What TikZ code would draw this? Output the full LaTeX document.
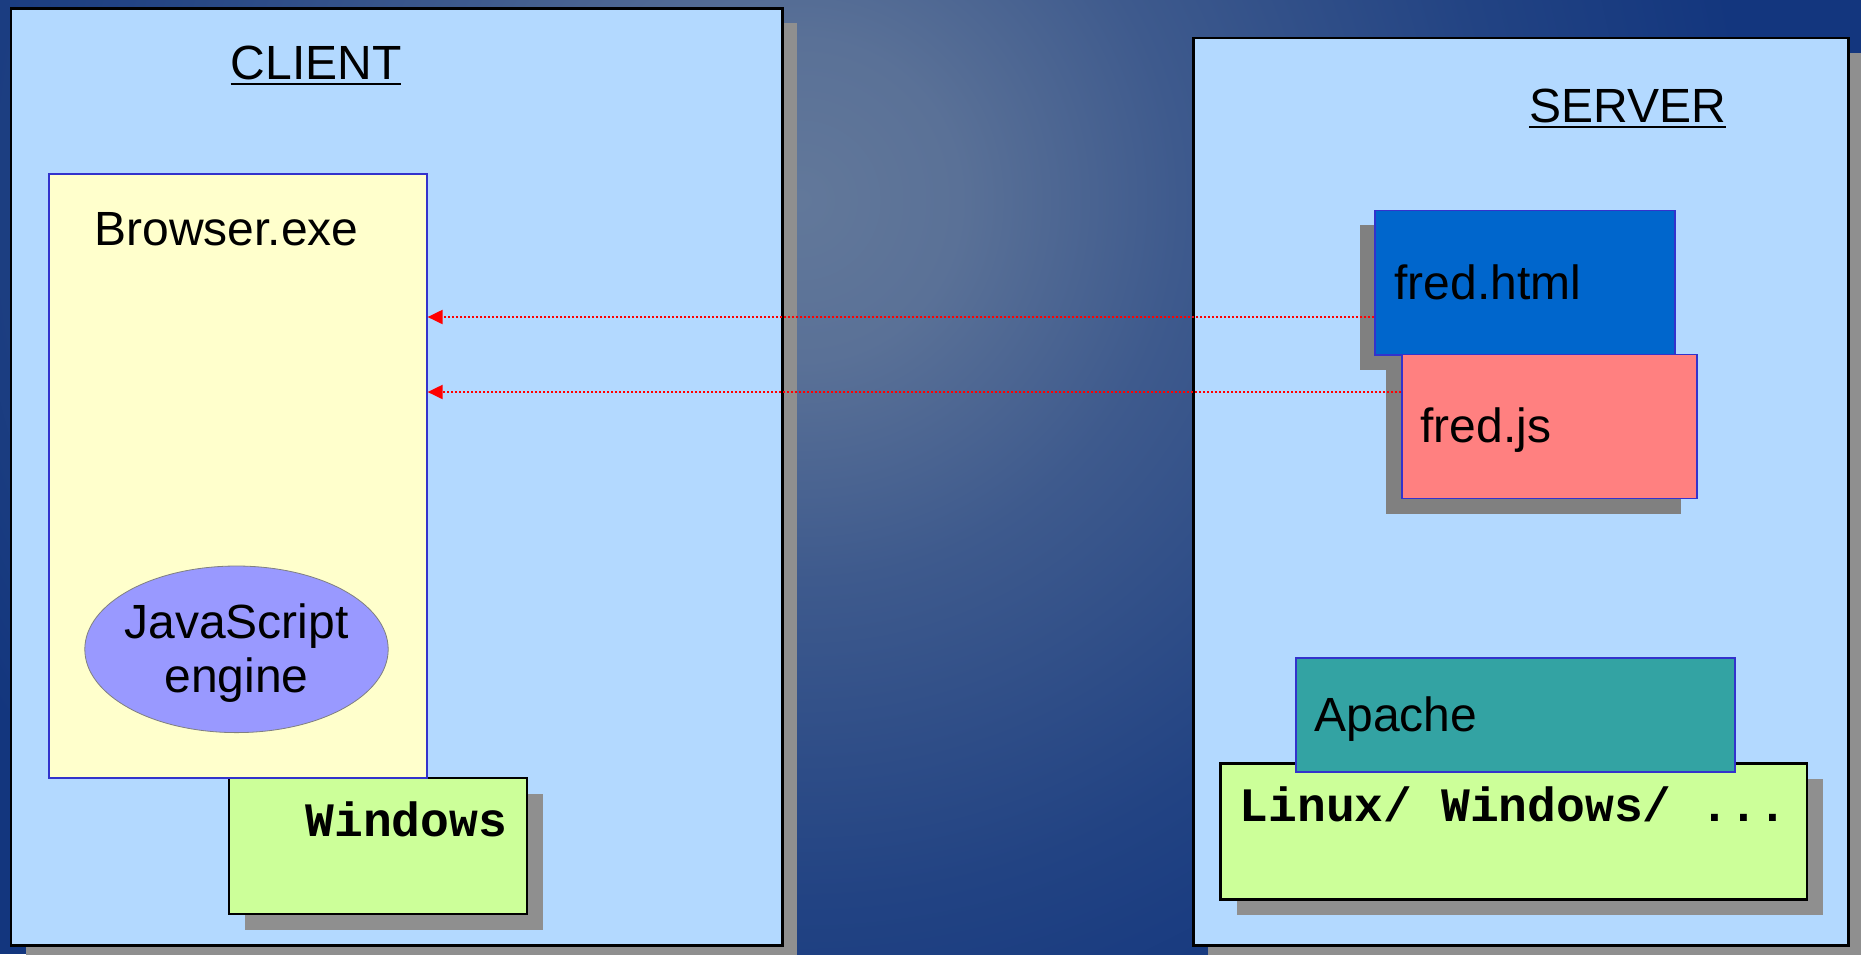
\documentclass[tikz,border=0pt]{standalone}
\usepackage{fontspec}
\setmainfont{Liberation Sans}
\newfontfamily\codefont{Liberation Mono}
\usetikzlibrary{shapes.geometric, shadows, arrows.meta}

\definecolor{bglight}{HTML}{62789A}
\definecolor{bgstep}{HTML}{5A7197}
\definecolor{bgmid}{HTML}{3E5A8D}
\definecolor{bgdeep}{HTML}{224383}
\definecolor{bgdark}{HTML}{13367E}
\definecolor{panelblue}{HTML}{B3D9FF}
\definecolor{shadowgrey}{HTML}{8F8F8F}
\definecolor{filegrey}{HTML}{808080}
\definecolor{edgeblue}{HTML}{3333CC}
\definecolor{browseryellow}{HTML}{FFFFCC}
\definecolor{enginepurple}{HTML}{9999FF}
\definecolor{osgreen}{HTML}{CCFF99}
\definecolor{htmlblue}{HTML}{0066CC}
\definecolor{jspink}{HTML}{FF8080}
\definecolor{apacheteal}{HTML}{33A3A3}

\pgfdeclareradialshading{backdrop}{\pgfpointorigin}{color(0bp)=(bglight); color(4bp)=(bgstep); color(9.5bp)=(bgmid); color(17.5bp)=(bgdeep); color(23.75bp)=(bgdark); color(50bp)=(bgdark)}

\newcommand\titleline[1]{\setbox0\hbox{#1}\rlap{\vrule height -2pt depth 2.9pt width \wd0}\box0}

\begin{document}
\begin{tikzpicture}[x=0.5pt, y=-0.5pt,
		box/.style={draw, rectangle, inner sep=0pt, anchor=north west},
		panel/.style={box, fill=panelblue, line width=1.4pt, drop shadow={shadow xshift=7.5pt, shadow yshift=-7.5pt, fill=shadowgrey, opacity=1}},
		filebox/.style={box, draw=edgeblue, line width=0.8pt},
		osbox/.style={box, fill=osgreen, line width=1.1pt, drop shadow={shadow xshift=8pt, shadow yshift=-8pt, fill=shadowgrey, opacity=1}},
		lbl/.style={inner sep=0pt, anchor=base west, font=\fontsize{24}{26.5}\selectfont},
		codelbl/.style={lbl, font=\codefont\bfseries\fontsize{24}{26.5}\selectfont},
		heading/.style={lbl, anchor=base},
		fetch/.style={red, line width=1pt, dash pattern=on 1pt off 1pt, -{Triangle[length=7.5pt, width=7pt]}}]
	\useasboundingbox (0,0) rectangle (1861,954);
	\begin{scope}
		\clip (0,0) rectangle (1861,954);
		\fill[bgdark] (0,0) rectangle (1861,954);
		\shade[shading=backdrop] (800,200) circle (1000);
	\end{scope}
	
	\node[panel, minimum width=385.75pt, minimum height=468.5pt] (client) at (9.5,7) {};
	\node[panel, minimum width=327.65pt, minimum height=453.75pt] (server) at (1191.7,36.5) {};
	\node[heading] (clienttitle) at (316,79.3) {\titleline{CLIENT}};
	\node[heading] (servertitle) at (1627.5,122.4) {\titleline{SERVER}};
	
	\node[osbox, minimum width=149pt, minimum height=68pt] (winbox) at (227.5,777) {};
	\node[codelbl] (wintxt) at (305,836) {Windows};
	\node[filebox, fill=browseryellow, minimum width=189pt, minimum height=302pt] (browser) at (48,173) {};
	\node[lbl] (browsertxt) at (94,245) {Browser.exe};
	\node[ellipse, draw=filegrey, fill=enginepurple, inner sep=0pt, minimum width=151.7pt, minimum height=83.3pt] (engine) at (236.5,649.3) {};
	\node[lbl, anchor=center, align=center, font=\fontsize{24}{27}\selectfont] (enginetxt) at (236.5,653) {JavaScript\\engine};
	
	\node[filebox, fill=htmlblue, minimum width=150pt, minimum height=72.2pt, drop shadow={shadow xshift=-7.5pt, shadow yshift=-7.5pt, fill=filegrey, opacity=1}] (html) at (1374,209.6) {};
	\node[lbl] (htmltxt) at (1394,299.2) {fred.html};
	\node[filebox, fill=jspink, minimum width=147.5pt, minimum height=72pt, drop shadow={shadow xshift=-8pt, shadow yshift=-8pt, fill=filegrey, opacity=1}] (js) at (1401,353.6) {};
	\node[lbl] (jstxt) at (1420,442.9) {fred.js};
	
	\node[osbox, minimum width=293.4pt, minimum height=68pt] (osbox) at (1219.4,762.3) {};
	\node[codelbl] (ostxt) at (1239.3,821.7) {Linux/ Windows/ ...};
	\node[filebox, fill=apacheteal, minimum width=219.5pt, minimum height=57pt] (apache) at (1295,657) {};
	\node[lbl] (apachetxt) at (1314,731.7) {Apache};
	
	\coordinate (htmlrow) at (0,317);
	\coordinate (jsrow) at (0,392);
	\draw[fetch] (html.west |- htmlrow) -- (browser.east |- htmlrow);
	\draw[fetch] (js.west |- jsrow) -- (browser.east |- jsrow);
\end{tikzpicture}
\end{document}
